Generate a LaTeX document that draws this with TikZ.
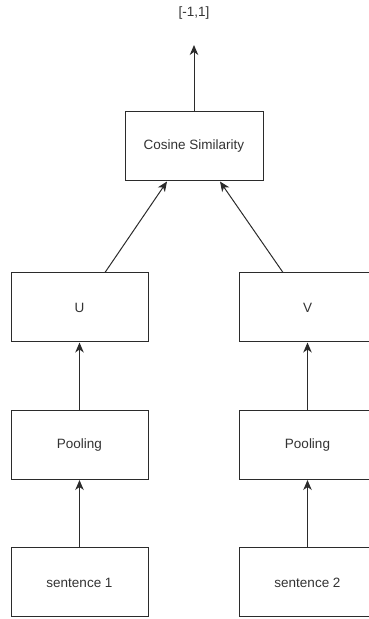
\documentclass[tikz,border=0pt]{standalone}
\usepackage{fontspec}
\setmainfont{Liberation Sans}
\usetikzlibrary{arrows.meta}
\definecolor{ink}{HTML}{333333}
\definecolor{edge}{HTML}{2B2B2B}
\begin{document}
\begin{tikzpicture}[x=1pt,y=1pt,
  blockbox/.style={draw=edge, line width=1pt, fill=white, minimum width=137pt, minimum height=69pt,
    inner sep=0pt, text=ink, font=\fontsize{13.5}{16}\selectfont},
  flow/.style={draw=edge, line width=1pt, -{Stealth[length=10pt,width=8.5pt,inset=3pt]}}]
\useasboundingbox (0,0) rectangle (368,619);

% blocks
\node[blockbox, minimum width=138pt] (cos) at (194,472.5) {Cosine Similarity};
\node[blockbox] (u) at (79.5,311.5) {U};
\node[blockbox] (v) at (307.5,311.5) {V};
\node[blockbox] (poolu) at (79.5,174) {Pooling};
\node[blockbox] (poolv) at (307.5,174) {Pooling};
\node[blockbox] (s1) at (79.5,36.5) {sentence 1};
\node[blockbox] (s2) at (307.5,36.5) {sentence 2};

% output range
\node[text=ink, font=\fontsize{13.5}{16}\selectfont] (range) at (194,606) {[-1,1]};
\coordinate (outtip) at (194,574);

% connectors
\draw[flow] (s1.north) -- (poolu.south);
\draw[flow] (s2.north) -- (poolv.south);
\draw[flow] (poolu.north) -- (u.south);
\draw[flow] (poolv.north) -- (v.south);
\draw[flow] ([xshift=25.5pt]u.north) -- ([xshift=-27pt]cos.south);
\draw[flow] ([xshift=-24.5pt]v.north) -- ([xshift=26pt]cos.south);
\draw[flow] (cos.north) -- (outtip);
\end{tikzpicture}
\end{document}
